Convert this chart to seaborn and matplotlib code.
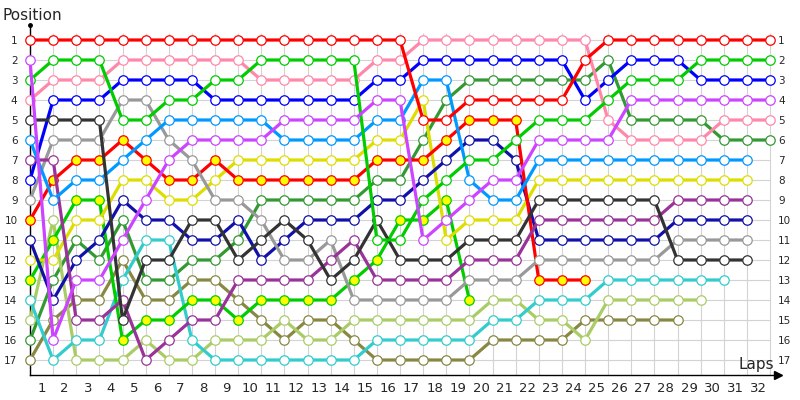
import matplotlib
matplotlib.use("Agg")
import matplotlib.pyplot as plt
import seaborn as sns
import pandas as pd

# ---- data: position of each driver after each lap (lap 0 = start) ----
red          = [1,1,1,1,1,1,1,1,1,1,1,1,1,1,1,1,1,5,5,4,4,4,4,4,2,1,1,1,1,1,1,1,1]
violet       = [2,16,13,13,11,9,7,6,6,6,6,5,5,5,5,4,4,11,10,9,8,8,6,6,6,6,4,4,4,4,4,4,4]
green        = [3,2,2,2,5,5,4,4,3,3,2,2,2,2,2,11,11,9,8,7,7,6,5,5,5,4,3,3,3,2,2,2,2]
pink         = [4,3,3,3,2,2,2,2,2,2,3,3,3,3,3,2,2,1,1,1,1,1,1,1,1,5,6,6,6,6,5,5,5]
darkgray     = [5,5,5,5,15,12,12,10,10,12,11,10,11,13,12,10,12,12,12,11,11,11,9,9,9,9,9,9,12,12,12,12]
lightblue    = [6,9,8,8,7,6,5,5,5,5,5,6,6,6,6,5,5,3,3,8,9,9,7,7,7,7,7,7,7,7,7,7]
purple       = [7,7,15,15,14,17,16,15,15,13,13,13,13,12,11,13,13,13,13,12,12,12,10,10,10,10,10,10,9,9,9,9]
blue         = [8,4,4,4,3,3,3,3,4,4,4,4,4,4,4,3,3,2,2,2,2,2,2,2,4,3,2,2,2,3,3,3,3]
gray         = [9,6,6,6,4,4,6,7,9,9,10,12,12,11,14,14,14,14,14,13,13,13,12,12,12,12,12,12,11,11,11,11]
red_yellow   = [10,8,7,7,6,7,8,8,7,8,8,8,8,8,8,7,7,7,6,5,5,5,13,13,13]
navy         = [11,14,12,11,9,10,10,11,11,10,12,11,10,10,10,9,9,8,7,6,6,7,11,11,11,11,11,11,10,10,10,10]
yellow       = [12,12,10,10,8,8,9,9,8,7,7,7,7,7,7,6,6,4,11,10,10,10,8,8,8,8,8,8,8,8,8,8]
green_yellow = [13,11,9,9,16,15,15,14,14,15,14,14,14,14,13,12,10,10,9,14]
cyan         = [14,17,16,16,13,11,11,16,17,17,17,17,17,17,17,16,16,16,16,16,15,15,14,14,14,13,13,13,13,13,13]
lightolive   = [15,10,17,17,17,16,17,17,16,16,16,15,16,16,15,15,15,15,15,15,14,14,15,15,16,14,14,14,14,14]
darkgreen    = [16,13,11,12,10,13,13,12,12,11,9,9,9,9,9,8,8,6,4,3,3,3,3,3,3,2,5,5,5,5,6,6,6]
olive        = [17,15,14,14,12,14,14,13,13,14,15,16,15,15,16,17,17,17,17,17,16,16,16,16,15,15,15,15,15]

lap_labels = [str(k) for k in range(1, 33)]
position_labels = [str(p) for p in range(1, 18)]

drivers = [
    ("red", red, "#ff0000", "white"),
    ("violet", violet, "#cc44ff", "white"),
    ("green", green, "#00cc00", "white"),
    ("pink", pink, "#ff88aa", "white"),
    ("darkgray", darkgray, "#333333", "white"),
    ("lightblue", lightblue, "#0099ff", "white"),
    ("purple", purple, "#993399", "white"),
    ("blue", blue, "#0000ff", "white"),
    ("gray", gray, "#999999", "white"),
    ("red_yellow", red_yellow, "#ff0000", "#ffff00"),
    ("navy", navy, "#1111aa", "white"),
    ("yellow", yellow, "#dddd00", "white"),
    ("green_yellow", green_yellow, "#00cc00", "#ffff00"),
    ("cyan", cyan, "#33cccc", "white"),
    ("lightolive", lightolive, "#aacc66", "white"),
    ("darkgreen", darkgreen, "#339933", "white"),
    ("olive", olive, "#888844", "white"),
]

rows = []
for name, pos, _, _ in drivers:
    for lap, p in enumerate(pos):
        rows.append({"driver": name, "lap": lap, "position": p})
df = pd.DataFrame(rows)

sns.set_theme(style="white")
plt.rcParams["font.family"] = ["DejaVu Sans"]

fig = plt.figure(figsize=(8, 4), dpi=100)
ax = fig.add_axes([30/800, 25/400, 748/800, 350/400])
ax.set_xlim(0, 748/23.125)
ylim = (1 + 335/20, 1 - 15/20)
ax.set_ylim(*ylim)

# grid
ax.vlines(range(0, 33), 0.65, ylim[0], color="#d3d3d3", lw=0.8, zorder=0)
ax.hlines(range(1, 18), 0, 32, color="#d3d3d3", lw=0.8, zorder=0)

for name, pos, col, face in reversed(drivers):
    sub = df[df["driver"] == name]
    sns.lineplot(data=sub, x="lap", y="position", ax=ax, color=col,
                 linewidth=2.3, marker="o", markersize=6.8,
                 markerfacecolor=face, markeredgecolor=col, markeredgewidth=0.9,
                 legend=False, clip_on=False, zorder=3, estimator=None, sort=False)

ax.set_xlabel("")
ax.set_ylabel("")
ax.set_xticks([k - 0.5 for k in range(1, 33)])
ax.set_xticklabels(lap_labels, fontsize=9.5)
ax.set_yticks(range(1, 18))
ax.set_yticklabels(position_labels, fontsize=7.5)
ax.tick_params(axis="y", length=0, pad=9, labelleft=True, labelright=False)
ax.tick_params(axis="x", length=0, pad=5)

# right-hand position labels
ax2 = ax.twinx()
ax2.set_ylim(*ylim)
ax2.set_yticks(range(1, 18))
ax2.set_yticklabels(position_labels, fontsize=7.5)
ax2.tick_params(axis="y", length=0, pad=0)
ax2.grid(False)
for s in ax2.spines.values():
    s.set_visible(False)

for s in ["top", "right"]:
    ax.spines[s].set_visible(False)
for s in ["left", "bottom"]:
    ax.spines[s].set_color("black")
    ax.spines[s].set_linewidth(1.0)

# arrow heads on axes
ax.plot(1, 0, ">", color="black", markersize=6, transform=ax.transAxes, clip_on=False)
ax.plot(0, 1, "o", color="black", markersize=2.5, transform=ax.transAxes, clip_on=False)

fig.text(2/800, 1 - 15/400, "Position", ha="left", va="center", fontsize=11)
fig.text(774/800, 1 - 364/400, "Laps", ha="right", va="center", fontsize=11)

fig.savefig("out.png", dpi=100)
